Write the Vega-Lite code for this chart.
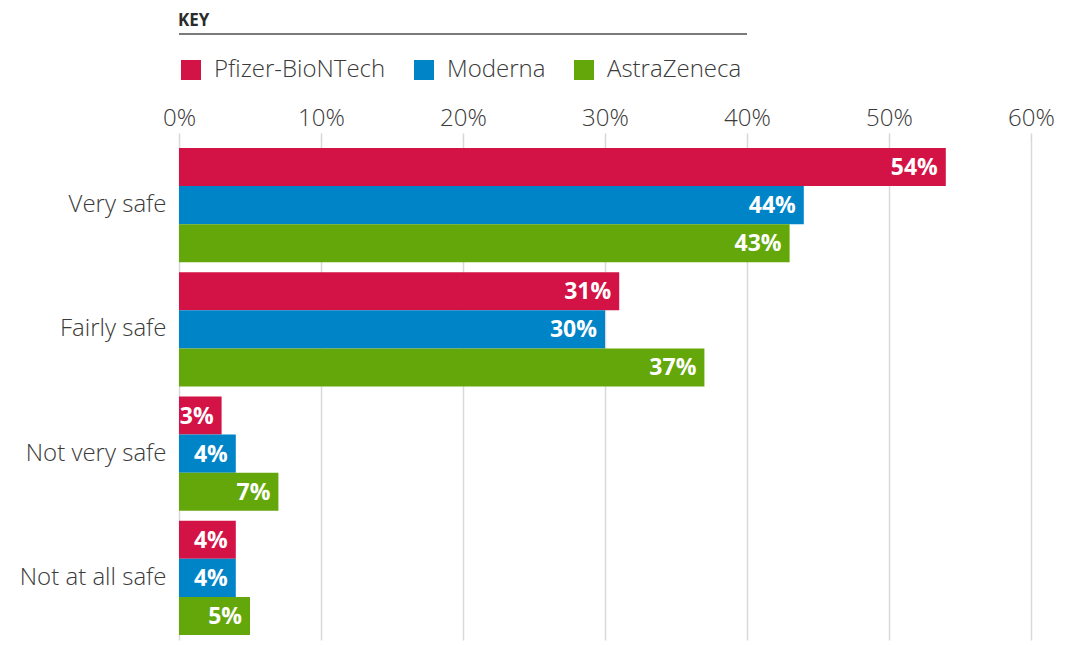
{
  "$schema": "https://vega.github.io/schema/vega-lite/v6.json",
  "padding": {"left": 19, "top": 12, "right": 15, "bottom": 5},
  "background": "white",
  "config": {"view": {"stroke": null}, "font": "Open Sans"},
  "data": {"values": [
    {"safety": "Very safe", "vaccine": "Pfizer-BioNTech", "value": 0.54},
    {"safety": "Very safe", "vaccine": "Moderna", "value": 0.44},
    {"safety": "Very safe", "vaccine": "AstraZeneca", "value": 0.43},
    {"safety": "Fairly safe", "vaccine": "Pfizer-BioNTech", "value": 0.31},
    {"safety": "Fairly safe", "vaccine": "Moderna", "value": 0.30},
    {"safety": "Fairly safe", "vaccine": "AstraZeneca", "value": 0.37},
    {"safety": "Not very safe", "vaccine": "Pfizer-BioNTech", "value": 0.03},
    {"safety": "Not very safe", "vaccine": "Moderna", "value": 0.04},
    {"safety": "Not very safe", "vaccine": "AstraZeneca", "value": 0.07},
    {"safety": "Not at all safe", "vaccine": "Pfizer-BioNTech", "value": 0.04},
    {"safety": "Not at all safe", "vaccine": "Moderna", "value": 0.04},
    {"safety": "Not at all safe", "vaccine": "AstraZeneca", "value": 0.05}
  ]},
  "spacing": 14,
  "resolve": {"legend": {"color": "independent"}},
  "vconcat": [
    {
      "width": 852,
      "height": 0,
      "data": {"values": [{"key": "KEY"}]},
      "title": {"text": "KEY", "anchor": "start", "fontSize": 17, "fontWeight": "bold", "color": "#2b2b2b", "offset": -6},
      "mark": {"type": "rule", "color": "#7a7a7a", "strokeWidth": 2},
      "encoding": {
        "x": {"datum": 0, "type": "quantitative", "scale": {"domain": [0, 0.6]}, "axis": null},
        "x2": {"datum": 0.4}
      }
    },
    {
      "width": 852,
      "height": 497,
      "encoding": {
        "y": {
          "field": "safety", "type": "nominal",
          "sort": ["Very safe", "Fairly safe", "Not very safe", "Not at all safe"],
          "scale": {"paddingInner": 0.0806, "paddingOuter": 0.0403},
          "axis": {"title": null, "ticks": false, "domain": false, "labelFontSize": 24, "labelColor": "#3a3a3a", "labelPadding": 13, "labelFontWeight": 300}
        },
        "yOffset": {
          "field": "vaccine", "type": "nominal",
          "sort": ["Pfizer-BioNTech", "Moderna", "AstraZeneca"],
          "scale": {"paddingInner": 0, "paddingOuter": 0}
        },
        "x": {
          "field": "value", "type": "quantitative",
          "scale": {"domain": [0, 0.6]},
          "axis": {"orient": "top", "title": null, "format": ".0%", "values": [0, 0.1, 0.2, 0.3, 0.4, 0.5, 0.6],
            "labelOverlap": false, "labelFlush": false,
            "domain": false, "tickSize": 10, "tickColor": "#d6d6d6", "tickWidth": 1.5,
            "gridColor": "#d9d9d9", "gridWidth": 1.5,
            "labelFontSize": 24, "labelColor": "#3a3a3a", "labelFontWeight": 300, "labelPadding": 3}
        }
      },
      "layer": [
        {
          "mark": {"type": "bar"},
          "encoding": {
            "color": {
              "field": "vaccine", "type": "nominal",
              "sort": ["Pfizer-BioNTech", "Moderna", "AstraZeneca"],
              "scale": {"domain": ["Pfizer-BioNTech", "Moderna", "AstraZeneca"], "range": ["#D31245", "#0084C8", "#63A70A"]},
              "legend": {"orient": "top", "title": null, "direction": "horizontal", "symbolType": "square", "symbolSize": 400,
                "symbolStrokeWidth": 0, "symbolOpacity": 1, "labelFontSize": 24, "labelColor": "#3a3a3a", "labelFontWeight": 300,
                "labelLimit": 400, "columnPadding": 26, "labelOffset": 11, "offset": 24}
            }
          }
        },
        {
          "mark": {"type": "text", "align": "right", "baseline": "middle", "dx": -8, "dy": 1, "color": "white", "fontWeight": "bold", "fontSize": 23},
          "encoding": {"text": {"field": "value", "type": "quantitative", "format": ".0%"}}
        }
      ]
    }
  ]
}
